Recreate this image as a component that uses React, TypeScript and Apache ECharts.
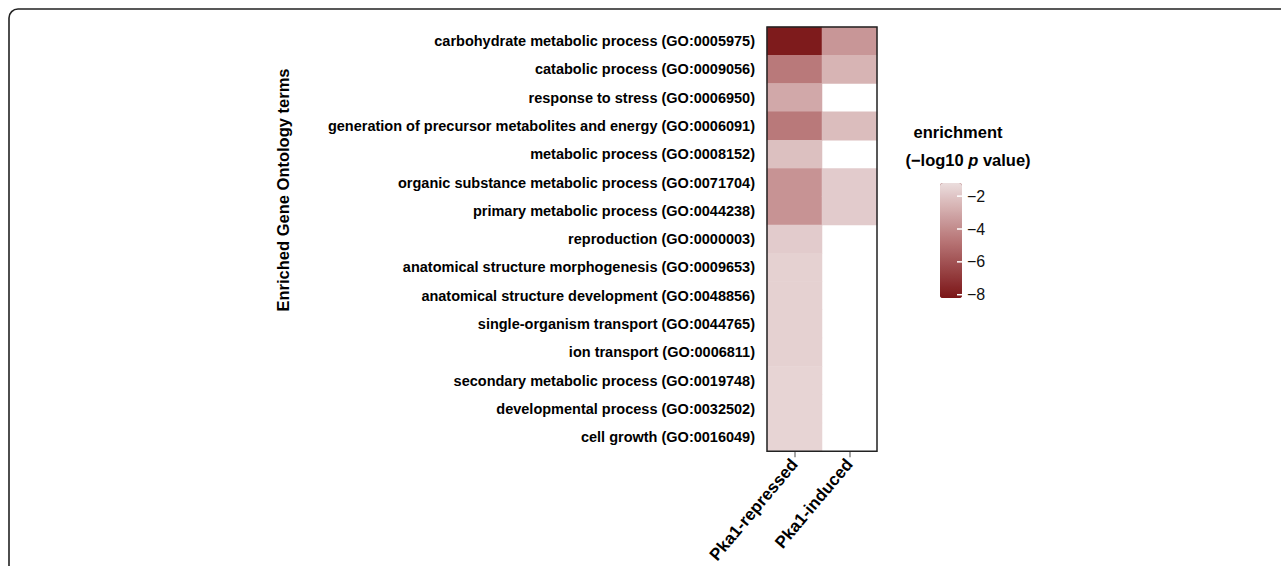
import React, { useEffect, useRef } from "react";
import * as echarts from "echarts";

const terms = [
  "carbohydrate metabolic process (GO:0005975)",
  "catabolic process (GO:0009056)",
  "response to stress (GO:0006950)",
  "generation of precursor metabolites and energy (GO:0006091)",
  "metabolic process (GO:0008152)",
  "organic substance metabolic process (GO:0071704)",
  "primary metabolic process (GO:0044238)",
  "reproduction (GO:0000003)",
  "anatomical structure morphogenesis (GO:0009653)",
  "anatomical structure development (GO:0048856)",
  "single-organism transport (GO:0044765)",
  "ion transport (GO:0006811)",
  "secondary metabolic process (GO:0019748)",
  "developmental process (GO:0032502)",
  "cell growth (GO:0016049)",
];

const conditions = ["Pka1-repressed", "Pka1-induced"];

const repressed = [-8.0, -4.6, -3.0, -4.6, -2.2, -3.7, -3.7, -1.8, -1.6, -1.6, -1.6, -1.6, -1.5, -1.5, -1.5];
const induced: (number | null)[] = [-3.6, -2.6, null, -2.3, null, -1.8, -1.8, null, null, null, null, null, null, null, null];

const legendTicks = [-2, -4, -6, -8];
const scaleMin = -8.2;
const scaleMax = -1.2;

const FONT = "'Liberation Sans', Arial, Helvetica, sans-serif";

export default function App() {
  const ref = useRef<HTMLDivElement>(null);

  useEffect(() => {
    if (!ref.current) return;
    const chart = echarts.init(ref.current, null, { renderer: "svg" });

    const cells: any[] = [];
    [repressed, induced].forEach((col, ci) => {
      col.forEach((v, ri) => {
        if (v !== null) cells.push([ci, ri, v]);
      });
    });

    // colour-bar geometry
    const barLeft = 940;
    const barTop = 183;
    const barW = 22;
    const barH = 115;
    const tickY = (v: number) => barTop + ((scaleMax - v) / (scaleMax - scaleMin)) * barH;

    const legendGraphics: any[] = [];
    legendTicks.forEach((t) => {
      const y = tickY(t);
      legendGraphics.push({
        type: "line",
        shape: { x1: barLeft + barW - 5, y1: y, x2: barLeft + barW, y2: y },
        style: { stroke: "#ffffff", lineWidth: 1.5 },
        z: 100,
      });
      legendGraphics.push({
        type: "text",
        x: barLeft + barW + 5,
        y,
        style: {
          text: "\u2212" + Math.abs(t),
          font: `16px ${FONT}`,
          fill: "#111",
          verticalAlign: "middle",
          align: "left",
        },
        z: 100,
      });
    });

    chart.setOption({
      animation: false,
      backgroundColor: "#ffffff",
      grid: {
        left: 767,
        top: 27,
        width: 110,
        height: 426,
        show: true,
        borderColor: "#222",
        borderWidth: 1.5,
        backgroundColor: "transparent",
        z: 5,
      },
      xAxis: {
        type: "category",
        data: conditions,
        position: "bottom",
        axisLine: { show: false },
        axisTick: { show: true, alignWithLabel: true, length: 6, lineStyle: { color: "#888", width: 1.5 } },
        axisLabel: {
          rotate: 50,
          margin: 10,
          fontFamily: FONT,
          fontWeight: "bold",
          fontSize: 17,
          color: "#000",
        },
        splitLine: { show: false },
        splitArea: { show: false },
      },
      yAxis: {
        type: "category",
        data: terms,
        inverse: true,
        axisLine: { show: false },
        axisTick: { show: false },
        axisLabel: {
          margin: 12,
          fontFamily: FONT,
          fontWeight: "bold",
          fontSize: 14.5,
          color: "#000",
        },
        splitLine: { show: false },
      },
      visualMap: {
        type: "continuous",
        min: scaleMin,
        max: scaleMax,
        dimension: 2,
        seriesIndex: 0,
        calculable: false,
        show: true,
        left: barLeft,
        top: barTop,
        padding: 0,
        itemWidth: barW,
        itemHeight: barH,
        showLabel: false,
        hoverLink: false,
        inRange: { color: ["#7b1517", "#b87677", "#ebdddd"] },
        outOfRange: { color: ["#7b1517"] },
      },
      series: [
        {
          type: "heatmap",
          data: cells,
          itemStyle: { borderWidth: 0 },
          emphasis: { disabled: true },
        },
      ],
      graphic: [
        {
          type: "rect",
          shape: { x: 9, y: 9, width: 1320, height: 620, r: 9 },
          style: { fill: "none", stroke: "#222", lineWidth: 1.6 },
          silent: true,
        },
        {
          type: "text",
          x: 283,
          y: 190,
          rotation: Math.PI / 2,
          style: {
            text: "Enriched Gene Ontology terms",
            font: `bold 16.5px ${FONT}`,
            fill: "#000",
            align: "center",
            verticalAlign: "middle",
          },
        },
        {
          type: "text",
          x: 958,
          y: 132,
          style: {
            text: "enrichment",
            font: `bold 16.5px ${FONT}`,
            fill: "#000",
            align: "center",
            verticalAlign: "middle",
          },
        },
        {
          type: "text",
          x: 968,
          y: 160,
          style: {
            text: "{a|(\u2212log10 }{b|p}{a| value)}",
            align: "center",
            verticalAlign: "middle",
            rich: {
              a: { font: `bold 16.5px ${FONT}`, fill: "#000" },
              b: { font: `italic bold 16.5px ${FONT}`, fill: "#000" },
            },
          },
        },
        ...legendGraphics,
      ],
    });

    return () => chart.dispose();
  }, []);

  return (
    <div
      ref={ref}
      style={{ position: "fixed", left: 0, top: 0, width: 1281, height: 566, background: "#fff" }}
    />
  );
}
